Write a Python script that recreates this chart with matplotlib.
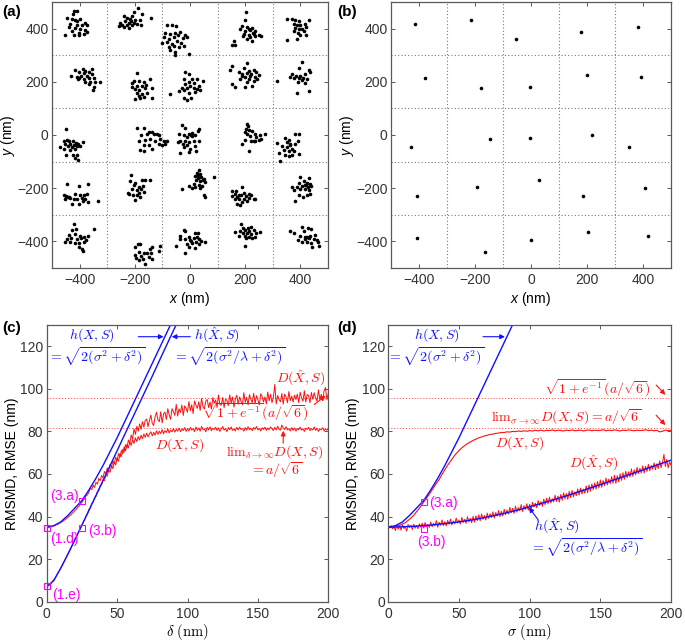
import numpy as np
import matplotlib.pyplot as plt

plt.rcParams['font.family'] = ['Liberation Sans', 'DejaVu Sans']
plt.rcParams['mathtext.fontset'] = 'custom'
plt.rcParams['mathtext.rm'] = 'Liberation Sans'
plt.rcParams['mathtext.it'] = 'Liberation Sans:italic'
plt.rcParams['font.size'] = 10
plt.rcParams['axes.edgecolor'] = '#5a5a5a'
plt.rcParams['axes.linewidth'] = 0.9
for k in ('xtick', 'ytick'):
    plt.rcParams[k + '.direction'] = 'in'
    plt.rcParams[k + '.major.size'] = 3
    plt.rcParams[k + '.major.width'] = 0.7
    plt.rcParams[k + '.color'] = '#5a5a5a'
    plt.rcParams[k + '.labelcolor'] = '#333333'
plt.rcParams['ytick.major.pad'] = 2.5
plt.rcParams['xtick.top'] = True
plt.rcParams['ytick.right'] = True

# ---- panel (a): localisations, one row of the 5x5 grid per list ----
row1_pts = [(-421, 465), (-409, 465), (-446, 441), (-428, 437), (-416, 431), (-397, 435), (-379, 422), (-434, 419),
            (-409, 415), (-391, 412), (-373, 415), (-440, 406), (-416, 402), (-397, 400), (-379, 394), (-428, 390),
            (-403, 385), (-452, 375), (-421, 375), (-403, 377), (-385, 381), (-373, 387), (-425, 455), (-410, 428),
            (-188, 477), (-204, 462), (-174, 456), (-240, 447), (-210, 447), (-140, 441), (-228, 440), (-216, 435),
            (-198, 431), (-180, 431), (-234, 427), (-220, 422), (-204, 422), (-246, 415), (-228, 412), (-210, 415),
            (-258, 410), (-240, 406), (-192, 419), (-222, 402), (-176, 415), (-252, 422), (-213, 427),
            (-83, 412), (-65, 412), (-51, 410), (-89, 385), (-71, 381), (-56, 385), (-35, 387), (-19, 377),
            (-95, 368), (-77, 362), (-59, 368), (-44, 375), (-27, 365), (-11, 368), (-83, 350), (-65, 343),
            (-47, 352), (-31, 347), (-102, 347), (-77, 331), (-59, 335), (-41, 331), (-23, 335), (-71, 318),
            (-56, 312), (-5, 306), (-53, 302),
            (204, 462), (198, 431), (188, 410), (207, 406), (225, 402), (182, 397), (200, 390), (219, 394),
            (237, 390), (194, 381), (212, 377), (231, 381), (249, 377), (258, 372), (219, 368), (237, 372),
            (207, 360), (225, 352), (158, 352), (152, 340), (164, 337), (212, 400), (228, 385), (191, 372),
            (351, 435), (370, 437), (382, 431), (394, 427), (430, 431), (376, 419), (388, 412), (400, 415),
            (418, 419), (382, 402), (394, 400), (406, 397), (420, 406), (376, 390), (391, 385), (412, 390),
            (400, 375), (420, 377), (351, 356), (388, 362)]
row2_pts = [(-418, 244), (-389, 248), (-379, 241), (-355, 248), (-401, 236), (-385, 232), (-367, 236), (-430, 223),
            (-409, 219), (-394, 223), (-373, 223), (-355, 228), (-406, 211), (-385, 211), (-367, 213), (-349, 216),
            (-379, 201), (-361, 198), (-343, 201), (-325, 198), (-367, 191), (-349, 182), (-353, 169), (-403, 213),
            (-192, 232), (-204, 203), (-184, 203), (-168, 201), (-144, 211), (-210, 182), (-192, 186), (-174, 186),
            (-159, 188), (-138, 178), (-198, 173), (-184, 169), (-164, 176), (-192, 157), (-174, 153), (-156, 157),
            (-186, 148), (-168, 144), (-138, 138), (-198, 135), (-180, 140), (-210, 194),
            (-17, 236), (-5, 228), (-23, 211), (25, 211), (46, 203), (-5, 201), (13, 194), (-17, 191),
            (1, 186), (31, 186), (-29, 178), (-11, 176), (13, 176), (37, 169), (-41, 166), (-23, 169),
            (19, 161), (-5, 157), (-71, 153), (-23, 140), (5, 140), (-11, 132), (25, 173), (7, 211),
            (207, 270), (152, 261), (146, 244), (194, 251), (176, 236), (213, 241), (231, 244), (188, 228),
            (207, 232), (222, 228), (239, 236), (201, 219), (219, 223), (234, 219), (249, 226), (182, 211),
            (213, 211), (231, 203), (243, 211), (207, 201), (152, 191), (164, 182), (201, 182), (225, 186),
            (188, 223),
            (406, 273), (394, 251), (430, 244), (436, 236), (370, 228), (384, 223), (400, 223), (418, 228),
            (376, 216), (394, 213), (408, 216), (424, 211), (391, 201), (415, 194), (315, 203), (430, 166),
            (388, 157), (406, 207), (364, 219)]
row3_pts = [(-449, 24), (-446, -18), (-458, -24), (-440, -24), (-425, -24), (-413, -30), (-389, -26), (-452, -34),
            (-434, -34), (-422, -36), (-406, -34), (-470, -46), (-442, -43), (-428, -46), (-409, -43), (-397, -43),
            (-458, -51), (-434, -55), (-416, -51), (-449, -74), (-425, -74), (-409, -76), (-416, -87), (-406, -93),
            (-192, 26), (-168, 26), (-150, 11), (-156, 4), (-138, 11), (-132, 4), (-120, 4), (-111, 1),
            (-176, -1), (-184, -24), (-162, -18), (-144, -14), (-126, -21), (-108, -14), (-95, -21), (-83, -21),
            (-168, -39), (-150, -36), (-114, -34), (-102, -36), (-180, -55), (-168, -61), (-138, -51), (-89, -34),
            (-29, 36), (-17, 26), (-41, 4), (-23, -1), (-5, 4), (7, 8), (29, 16), (34, 24),
            (-11, -9), (5, 1), (19, -1), (-35, -24), (-19, -21), (-2, -26), (13, -21), (31, -24),
            (-44, -28), (-27, -34), (-11, -36), (19, -43), (1, -51), (-23, -46), (-35, -68), (-5, -64),
            (22, -61), (7, -5),
            (207, 41), (210, 33), (203, 24), (213, 20), (201, 11), (225, 14), (207, 4), (237, 4),
            (255, 1), (271, 4), (219, -5), (239, -9), (258, -14), (201, -18), (222, -24), (237, -21),
            (249, -19), (188, -34), (213, -59), (231, -24),
            (345, -11), (360, -18), (379, 4), (394, 4), (391, -24), (351, -26), (364, -36), (379, -34),
            (315, -30), (333, -43), (351, -46), (370, -51), (339, -55), (358, -59), (376, -61), (394, -71),
            (321, -68), (345, -74), (358, -80), (370, -74), (327, -97), (364, -34)]
row4_pts = [(-446, -183), (-403, -192), (-370, -183), (-418, -220), (-458, -227), (-449, -229), (-440, -233),
            (-397, -224), (-385, -227), (-373, -220), (-452, -239), (-434, -237), (-422, -242), (-409, -239),
            (-391, -237), (-379, -242), (-370, -252), (-428, -258), (-403, -258), (-389, -249), (-333, -249),
            (-442, -233),
            (-213, -152), (-216, -174), (-198, -179), (-174, -170), (-164, -170), (-144, -170), (-204, -189),
            (-186, -195), (-172, -192), (-210, -202), (-192, -208), (-176, -204), (-225, -217), (-208, -224),
            (-184, -217), (-168, -214), (-192, -227), (-180, -233), (-200, -246), (-220, -220),
            (31, -133), (25, -142), (37, -145), (19, -154), (41, -158), (29, -162), (50, -164), (86, -158),
            (22, -170), (37, -174), (53, -177), (13, -183), (31, -187), (44, -192), (19, -195), (37, -199),
            (7, -199), (-29, -202), (50, -224), (56, -233), (-2, -192), (29, -149), (46, -170),
            (188, -195), (152, -212), (167, -212), (162, -220), (176, -224), (194, -217), (213, -220),
            (152, -229), (170, -233), (186, -227), (203, -229), (222, -227), (237, -242), (162, -242),
            (179, -242), (194, -239), (213, -237), (231, -242), (188, -252), (207, -249), (170, -258),
            (182, -264),
            (400, -158), (430, -162), (394, -179), (412, -174), (424, -179), (436, -183), (370, -195),
            (388, -195), (406, -192), (418, -189), (428, -195), (440, -192), (376, -208), (400, -204),
            (415, -204), (430, -208), (396, -227), (424, -224), (436, -220), (382, -249), (408, -233),
            (420, -187)]
row5_pts = [(-422, -336), (-428, -357), (-413, -353), (-349, -353), (-440, -376), (-416, -373), (-397, -378),
            (-385, -382), (-370, -378), (-446, -391), (-430, -388), (-409, -391), (-394, -388), (-452, -403),
            (-434, -401), (-418, -407), (-401, -407), (-385, -401), (-403, -420), (-391, -429), (-389, -436),
            (-377, -395),
            (-188, -411), (-180, -411), (-198, -420), (-138, -420), (-108, -416), (-144, -429), (-114, -436),
            (-184, -441), (-168, -445), (-156, -445), (-140, -445), (-198, -451), (-176, -454), (-150, -457),
            (-196, -461), (-172, -466), (-138, -466), (-162, -486), (-184, -470),
            (-23, -357), (-17, -361), (-35, -378), (19, -370), (29, -370), (-5, -382), (13, -386), (25, -382),
            (-35, -391), (-17, -391), (1, -395), (31, -391), (41, -398), (56, -401), (-11, -411), (7, -407),
            (22, -403), (31, -411), (-51, -416), (-2, -420), (17, -424), (-17, -445), (5, -398),
            (186, -336), (222, -345), (162, -366), (182, -361), (198, -357), (213, -361), (231, -357),
            (255, -363), (191, -370), (207, -370), (222, -373), (239, -370), (176, -378), (198, -378),
            (215, -382), (203, -388), (225, -388), (237, -382), (198, -416), (210, -351), (191, -351),
            (364, -361), (406, -345), (428, -351), (440, -353), (376, -370), (412, -361), (400, -378),
            (418, -382), (436, -378), (454, -376), (391, -395), (418, -391), (430, -388), (448, -391),
            (460, -395), (406, -403), (424, -403), (440, -407), (464, -403), (442, -420), (466, -416),
            (424, -382)]

# ---- panel (b): estimated emitter positions ----
b_x = [-416, -215, -54, 177, 383, -378, -179, -2, 199, 393, -430, -147, -5, 219, 350,
       -408, -193, 29, 187, 407, -407, -166, 1, 203, 419]
b_y = [419, 431, 360, 389, 406, 216, 175, 181, 225, 218, -44, -14, -11, 0, -44,
       -231, -196, -171, -231, -198, -386, -440, -393, -363, -381]

# ---- panel (c): RMSMD / RMSE versus delta ----
c_h_delta = [0, 5, 10, 15, 20, 25, 30, 35, 40, 45, 50, 55, 60, 65, 70, 75, 80, 85, 90]
c_h = [35, 35.7, 37.5, 40.5, 44, 47.5, 52.5, 58, 64, 70.5, 77, 84, 91, 98, 105, 112, 119, 126, 133]
c_hhat_delta = [0, 5, 10, 15, 20, 25, 30, 35, 40, 45, 50, 55, 60, 65, 70, 75, 80, 85, 90, 95]
c_hhat = [7, 9.9, 15.8, 22.3, 29.1, 36, 42.9, 49.9, 56.9, 63.9, 70.9, 78, 85, 92, 99, 106, 113.2, 120.3,
          127.4, 134.4]
c_dhat = [7.2, 7.5, 8.1, 8.6, 9.5, 10.3, 11.2, 12.4, 13.5, 14.6, 15.9, 17.0, 18.3, 19.5, 20.9, 22.1, 23.6,
          24.8, 26.3, 27.6, 29.2, 30.4, 31.9, 33.0, 34.6, 35.8, 37.5, 38.6, 40.4, 41.2, 43.5,
          44.1, 46.2, 46.8, 49.0, 49.5, 51.8, 52.2, 54.6, 55.0, 57.3, 56.8, 59.5, 58.9, 61.7, 60.8, 63.9, 62.5,
          65.8, 64.2, 67.4, 66.0, 69.5, 68.1, 71.6, 70.3, 73.8, 72.2, 76.0, 74.4, 78.3, 76.5, 81.2, 78.6, 82.4,
          80.1, 83.5, 81.0, 84.6, 82.0, 85.2,
          85.8, 82.2, 85.2, 87.7, 83.7, 82.8, 86.9, 89.0, 85.4, 84.6, 89.2, 84.0, 88.2, 89.1, 85.6, 90.7, 87.8,
          85.7, 90.7, 89.3, 87.5, 92.7, 87.2, 90.6, 88.9, 92.4, 87.5, 92.0, 91.0, 89.0, 94.0, 89.7, 92.5, 88.4,
          94.3, 92.3, 90.8, 93.9, 89.9, 95.5, 91.7, 90.5, 94.3, 95.0, 91.2, 93.8, 90.5, 95.9, 93.2, 94.8, 91.3,
          97.1, 92.7, 92.3, 95.9, 91.2, 95.2, 94.6, 92.1, 97.2, 93.2, 96.2, 91.4, 95.2, 97.0, 92.8, 96.2, 94.2,
          92.5, 98.2, 93.7, 96.0, 92.5, 97.3, 95.2, 93.5, 97.9, 93.0, 96.8, 94.9, 92.4, 97.7, 96.4, 93.8, 96.2,
          92.9, 98.5, 94.4, 97.4, 93.5, 95.9, 102.1, 92.9, 96.9, 95.1, 93.9, 97.8, 92.8, 97.5, 96.2, 93.5, 98.7,
          94.5, 96.6, 93.8, 97.0, 95.0, 97.5, 93.5, 98.4, 95.8, 94.2, 99.1, 93.8, 97.3, 96.8, 93.5, 98.3, 95.1,
          98.2, 95.6, 94.2, 99.5, 95.0, 97.4, 94.5, 99.0, 100.6, 94.9, 97.9]
c_d = [35.0, 34.8, 35.2, 35.1, 35.5, 35.6, 35.9, 36.2, 36.4, 36.9, 37.2, 37.6, 38.0, 38.6, 39.0, 39.6, 40.2,
       40.7, 41.4, 42.0, 42.8, 43.4, 44.3, 44.9, 45.9, 46.6, 47.8, 48.4, 49.8, 50.2, 51.5,
       53.4, 52.6, 54.8, 53.7, 56.1, 55.2, 57.9, 56.9, 59.3, 58.1, 61.2, 59.9, 62.8, 61.3, 64.5, 62.9, 66.2,
       64.8, 67.9, 66.3, 69.6, 67.8, 71.0, 69.5, 72.8, 70.9, 73.9, 72.2, 75.1, 73.4, 76.2, 74.3, 77.0, 75.2,
       77.6, 75.9, 78.2, 76.6, 78.8, 77.2,
       79.2, 77.4, 78.9, 79.8, 77.9, 79.6, 78.2, 80.3, 78.6, 80.1, 79.0, 80.8, 78.9, 80.4, 79.5, 81.2, 79.3,
       80.6, 79.8, 81.3, 79.7, 81.0, 80.1, 81.6, 79.9, 81.2, 80.4, 81.8, 80.0, 81.4,
       80.2, 81.9, 80.6, 81.3, 79.9, 82.1, 80.5, 81.6, 80.1, 82.4, 80.8, 81.2, 79.8, 81.9, 80.7, 82.2, 80.3,
       81.5, 80.9, 82.0, 80.4, 81.7, 80.0, 81.3, 82.3, 80.6, 81.4, 79.9, 81.8, 80.8, 82.1, 80.5, 81.2, 80.2,
       81.9, 80.7, 82.0, 80.9, 81.3, 80.1, 81.8, 80.6, 82.2, 80.8, 81.5, 80.3, 81.9, 81.0, 82.3, 80.7, 81.4,
       80.2, 81.7, 80.9, 82.0, 80.5, 81.6, 80.8, 82.1, 81.2, 80.4, 81.9, 80.7, 82.4, 81.1, 80.6, 83.0, 81.5,
       80.9, 82.2, 80.7, 81.3, 80.2, 81.8, 80.5, 81.6, 80.1, 81.4, 80.8, 82.0, 80.6, 81.2, 80.0, 81.5, 80.9,
       81.9, 80.4, 81.3, 80.7, 82.1, 80.5, 81.4, 80.0, 81.2, 80.8, 81.7, 80.3, 81.1, 80.6, 81.5]

# ---- panel (d): RMSMD / RMSE versus sigma ----
d_hhat_sigma = [0, 10, 20, 30, 40, 50, 60, 70, 80, 90, 100, 110, 120, 130, 140, 150, 160, 170, 180, 190, 200]
d_hhat = [35, 35.2, 35.5, 36, 36.7, 37.5, 38.5, 39.8, 41.2, 42.8, 44.6, 46.5, 48.5, 50.6, 52.8, 55, 57.3,
          59.6, 61.9, 64.2, 66.5]
d_d = [35.2, 35.0, 35.4, 35.6, 35.9, 36.5, 37.1, 38.2, 39.3, 40.6, 42.3, 43.9, 45.9, 47.7, 49.6, 51.5, 53.5,
       55.6, 57.4, 59.8, 62.0, 64.1, 66.0, 67.9, 69.6, 71.0, 72.3, 73.3, 74.3, 75.0, 75.8, 76.4, 77.0, 77.4,
       77.9, 78.2, 78.6, 78.7, 79.1, 79.2, 79.5, 79.5, 79.8, 79.7, 80.0, 79.9, 80.2, 80.0, 80.3, 80.1, 80.4,
       80.2, 80.5, 80.3, 80.6, 80.2, 80.5, 80.4, 80.7, 80.3, 80.6, 80.4, 80.2, 80.6, 80.4, 80.7, 80.3, 80.5,
       80.6, 80.2, 80.5, 80.7, 80.3, 80.6, 80.4, 80.5, 80.8, 80.3, 80.6, 80.4, 80.7, 80.5, 80.2, 80.6, 80.4,
       80.7, 80.5, 80.3, 80.6, 80.4, 80.5, 80.8, 80.4, 80.6, 80.3, 80.5, 79.8, 80.1, 80.6, 80.4, 80.5]
d_dhat = [35.3, 34.6, 35.8, 34.2, 35.5, 33.4, 36.0, 34.1, 35.7, 33.6, 36.1, 34.4, 35.2, 33.2, 36.3, 34.8,
          35.9, 33.9, 36.4, 34.5, 35.8,
          34.3, 36.6, 35.1, 36.9, 34.6, 37.2, 35.4, 36.3, 34.9, 37.4, 35.2, 36.8, 35.6, 38.1, 35.0, 37.3, 35.9,
          38.4, 35.7, 37.6,
          35.6, 38.2, 36.4, 38.8, 36.1, 37.9, 36.6, 39.3, 36.9, 38.4, 36.5, 39.6, 37.2, 38.7, 36.8, 39.9, 37.5,
          39.2, 37.1, 40.1,
          37.4, 40.3, 38.1, 40.8, 38.0, 41.2, 38.7, 40.5, 38.4, 41.6, 39.1, 41.3, 39.5, 42.2, 39.3, 41.9, 40.2,
          42.8, 40.0, 42.5,
          40.3, 43.4, 40.9, 43.1, 41.2, 44.3, 41.8, 43.9, 41.5, 44.9, 42.1, 44.2, 42.7, 45.6, 42.4, 45.1, 43.3,
          46.0, 43.0, 45.8,
          43.2, 46.7, 44.5, 46.3, 44.1, 47.5, 45.2, 47.0, 44.8, 48.2, 45.6, 48.6, 46.0, 49.1, 46.4, 48.4, 46.9,
          50.0, 47.1, 49.6,
          46.8, 50.4, 47.6, 51.2, 48.3, 50.8, 48.1, 51.9, 48.9, 52.3, 49.2, 51.6, 49.8, 53.0, 50.1, 53.4, 50.6,
          52.9, 51.0, 54.4,
          51.2, 54.8, 51.9, 55.3, 52.6, 55.8, 52.9, 56.5, 53.5, 57.2, 53.8, 56.9, 54.6, 58.1, 54.9, 57.6, 55.4,
          58.8, 55.7, 59.4,
          55.6, 59.2, 56.3, 60.1, 57.0, 60.6, 57.5, 61.3, 58.2, 61.0, 58.6, 62.4, 58.9, 62.0, 59.6, 63.1, 60.2,
          62.7, 60.5, 63.8,
          60.4, 63.6, 61.2, 64.5, 61.5, 64.0, 62.3, 65.2, 62.0, 64.8, 62.6, 66.1, 63.0, 65.4, 69.2, 63.5, 66.8,
          62.9, 65.7, 64.2]

limit_hat = 95.5   # sqrt(1+e^-1) a/sqrt(6)
limit_x = 81.5     # a/sqrt(6)

BLUE = '#1010ff'
RED = '#ff1010'
MAG = '#ff00ff'
GRID = '#7a7a7a'

fig = plt.figure(figsize=(6.85, 6.43), dpi=100)
W, H = 685.0, 643.0


def box(l, t, r, b):
    return [l / W, 1 - b / H, (r - l) / W, (b - t) / H]


ax_a = fig.add_axes(box(52, 2, 328, 268))
ax_b = fig.add_axes(box(391, 2, 671, 268))
ax_c = fig.add_axes(box(46.7, 325, 328.3, 601.7))
ax_d = fig.add_axes(box(388.3, 325, 671, 601.7))

# scatter panels
for ax in (ax_a, ax_b):
    for v in (-300, -100, 100, 300):
        ax.axvline(v, color=GRID, ls=(0, (1, 2)), lw=0.8)
        ax.axhline(v, color=GRID, ls=(0, (1, 2)), lw=0.8)
    ax.set_xlim(-500, 500)
    ax.set_ylim(-500, 500)
    ax.set_xticks([-400, -200, 0, 200, 400])
    ax.set_yticks([-400, -200, 0, 200, 400])
    ax.set_xlabel(r'$x$ (nm)', labelpad=2)
    ax.set_ylabel(r'$y$ (nm)', labelpad=0)

for pts in (row1_pts, row2_pts, row3_pts, row4_pts, row5_pts):
    xs, ys = zip(*pts)
    ax_a.plot(xs, ys, 'o', color='k', ms=2.6, mew=0)
ax_b.plot(b_x, b_y, 'o', color='k', ms=2.6, mew=0)

# curve panels
for ax in (ax_c, ax_d):
    ax.set_xlim(0, 200)
    ax.set_ylim(0, 130)
    ax.set_xticks([0, 50, 100, 150, 200])
    ax.set_yticks([0, 20, 40, 60, 80, 100, 120])
    ax.axhline(limit_hat, color=RED, ls=(0, (1, 2)), lw=0.7, alpha=0.8)
    ax.axhline(limit_x, color=RED, ls=(0, (1, 2)), lw=0.7, alpha=0.8)
    ax.set_ylabel('RMSMD, RMSE (nm)', labelpad=1)

ax_c.plot(np.arange(len(c_dhat)), c_dhat, color=RED, lw=0.7)
ax_c.plot(np.arange(len(c_d)), c_d, color=RED, lw=0.7)
ax_c.plot(c_h_delta, c_h, color=BLUE, lw=1.0)
ax_c.plot(c_hhat_delta, c_hhat, color=BLUE, lw=1.0)
ax_c.set_xlabel(r'$\delta\ (\mathrm{nm})$', math_fontfamily='cm', fontsize=10.5, labelpad=1)

ax_d.plot(np.arange(len(d_dhat)), d_dhat, color=RED, lw=0.7)
ax_d.plot(np.arange(len(d_d)) * 2, d_d, color=RED, lw=0.8)
ax_d.plot(c_h_delta, c_h, color=BLUE, lw=1.0)
ax_d.plot(d_hhat_sigma, d_hhat, color=BLUE, lw=1.0)
ax_d.set_xlabel(r'$\sigma\ (\mathrm{nm})$', math_fontfamily='cm', fontsize=10.5, labelpad=1)

# markers of the equations (magenta squares)
sq = dict(marker='s', ms=4.5, mfc='none', mec=MAG, mew=0.8, ls='none', clip_on=False)
ax_c.plot([0, 0, 25, 25], [34.5, 7.2, 47.2, 34.8], **sq)
ax_d.plot([25, 25], [47.0, 34.3], **sq)
lab = dict(color=MAG, fontsize=10, ha='center', va='center')
ax_c.text(12.7, 49.5, '(3.a)', **lab)
ax_c.text(12.7, 29.5, '(1.d)', **lab)
ax_c.text(39.5, 33.0, '(3.b)', **lab)
ax_c.text(14.0, 3.2, '(1.e)', **lab)
ax_d.text(39.0, 46.5, '(3.a)', **lab)
ax_d.text(30.5, 28.0, '(3.b)', **lab)

# formula annotations
mt = dict(ha='center', va='center', fontsize=10, math_fontfamily='cm')
arr = dict(arrowstyle='-|>', lw=0.8, mutation_scale=7, shrinkA=0, shrinkB=0)

ax_c.text(32.4, 125.3, r'$h(X,S)$', color=BLUE, **mt)
ax_c.text(35.5, 115.2, r'$=\sqrt{2(\sigma^2+\delta^2)}$', color=BLUE, **mt)
ax_c.text(121, 125.3, r'$h(\hat{X},S)$', color=BLUE, **mt)
ax_c.text(130, 115.2, r'$=\sqrt{2(\sigma^2/\lambda+\delta^2)}$', color=BLUE, **mt)
ax_c.annotate('', xy=(83.0, 124.5), xytext=(65, 124.5), arrowprops=dict(color=BLUE, **arr))
ax_c.annotate('', xy=(88.8, 124.5), xytext=(102, 124.5), arrowprops=dict(color=BLUE, **arr))
ax_c.text(180, 105, r'$D(\hat{X},S)$', color=RED, **mt)
ax_c.text(148, 88.8, r'$\sqrt{1+e^{-1}}(a/\sqrt{6})$', color=RED, **mt)
ax_c.annotate('', xy=(198, 96.8), xytext=(190, 92.6), arrowprops=dict(color=RED, **arr))
ax_c.text(94.7, 73.6, r'$D(X,S)$', color=RED, **mt)
ax_c.text(162, 70.5, r'$\mathrm{lim}_{\delta\rightarrow\infty}D(X,S)$', color=RED, **mt)
ax_c.text(163, 62.0, r'$=a/\sqrt{6}$', color=RED, **mt)
ax_c.annotate('', xy=(168, 80.3), xytext=(168, 74.5), arrowprops=dict(color=RED, **arr))

ax_d.text(34.2, 125.3, r'$h(X,S)$', color=BLUE, **mt)
ax_d.text(34.0, 115.2, r'$=\sqrt{2(\sigma^2+\delta^2)}$', color=BLUE, **mt)
ax_d.annotate('', xy=(82.5, 124.5), xytext=(67, 124.5), arrowprops=dict(color=BLUE, **arr))
ax_d.text(147.4, 100.2, r'$\sqrt{1+e^{-1}}(a/\sqrt{6})$', color=RED, **mt)
ax_d.annotate('', xy=(196, 97.2), xytext=(189.5, 101.8), arrowprops=dict(color=RED, **arr))
ax_d.text(126, 86.6, r'$\mathrm{lim}_{\sigma\rightarrow\infty}D(X,S)=a/\sqrt{6}$', color=RED, **mt)
ax_d.annotate('', xy=(196, 83.0), xytext=(189.5, 87.6), arrowprops=dict(color=RED, **arr))
ax_d.text(93, 74.4, r'$D(X,S)$', color=RED, **mt)
ax_d.text(145, 65.0, r'$D(\hat{X},S)$', color=RED, **mt)
ax_d.text(119, 35.3, r'$h(\hat{X},S)$', color=BLUE, **mt)
ax_d.text(140, 25.2, r'$=\sqrt{2(\sigma^2/\lambda+\delta^2)}$', color=BLUE, **mt)
ax_d.annotate('', xy=(99.5, 44.3), xytext=(106, 38.5), arrowprops=dict(color=BLUE, **arr))

# panel letters
for txt, x, y in (('(a)', 2, 12), ('(b)', 337, 12), ('(c)', 2, 328), ('(d)', 337, 328)):
    fig.text(x / W, 1 - y / H, txt, fontsize=11, fontweight='bold', ha='left', va='center', color='k')

fig.savefig('out.png', dpi=100)
